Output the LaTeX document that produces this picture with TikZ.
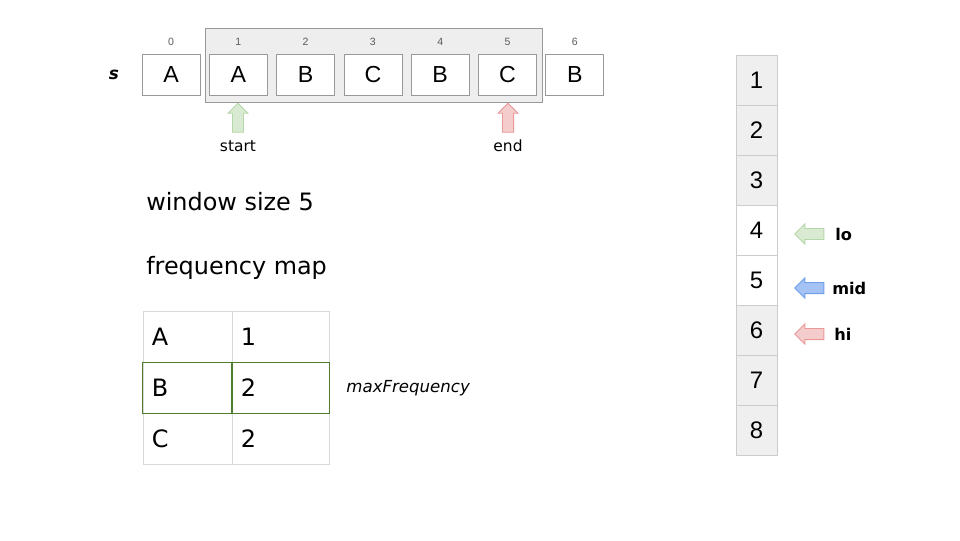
\documentclass[tikz,border=0pt]{standalone}
\usepackage{fontspec}
\setmainfont{DejaVu Sans}
\newfontfamily\cellfont{Liberation Sans}
\usepackage{tikz}
\usetikzlibrary{positioning,shapes.arrows}
\definecolor{CellGray}{HTML}{999999}
\definecolor{IdxGray}{HTML}{595959}
\definecolor{WinFill}{HTML}{EEEEEE}
\definecolor{WinBorder}{HTML}{999999}
\definecolor{BinFill}{HTML}{EFEFEF}
\definecolor{BinBorder}{HTML}{CCCCCC}
\definecolor{TabBorder}{HTML}{D9D9D9}
\definecolor{MaxGreen}{HTML}{4E7D2F}
\definecolor{PtrGreenFill}{HTML}{D9EAD3}
\definecolor{PtrGreenLine}{HTML}{B6D7A8}
\definecolor{PtrRedFill}{HTML}{F4CCCC}
\definecolor{PtrRedLine}{HTML}{EA9999}
\definecolor{PtrBlueFill}{HTML}{A4C2F4}
\definecolor{PtrBlueLine}{HTML}{6D9EEB}
\tikzset{
  strcell/.style={draw=CellGray,fill=white,line width=0.5pt,minimum width=1.45cm,
    minimum height=1.025cm,inner sep=0pt,font=\cellfont\fontsize{16.5}{20}\selectfont},
  idxlabel/.style={inner sep=0pt,text=IdxGray,font=\cellfont\fontsize{7.5}{9}\selectfont},
  windowbox/.style={draw=WinBorder,fill=WinFill,line width=0.6pt,
    minimum width=8.425cm,minimum height=1.85cm,inner sep=0pt},
  bincell/.style={draw=BinBorder,line width=0.5pt,minimum width=1.025cm,
    minimum height=1.25cm,inner sep=0pt,font=\cellfont\fontsize{17}{20}\selectfont},
  tcell/.style={draw=TabBorder,line width=0.5pt,minimum height=1.275cm,inner xsep=0.22cm,
    inner ysep=0pt,align=left,font=\fontsize{17}{20}\selectfont},
  keycell/.style={tcell,minimum width=2.225cm,text width=1.785cm},
  valcell/.style={tcell,minimum width=2.425cm,text width=1.985cm},
  maxrow/.style={draw=MaxGreen,line width=0.8pt},
  pointer/.style={single arrow,single arrow head extend=0.1cm,inner sep=0.11cm,
    minimum width=0.5cm,minimum height=0.725cm,line width=0.7pt},
  ptrup/.style={pointer,shape border rotate=90},
  ptrleft/.style={pointer,shape border rotate=180},
  smalltext/.style={inner sep=0pt,font=\fontsize{11}{13}\selectfont},
  bigtext/.style={inner sep=0pt,font=\fontsize{17}{20}\selectfont},
  ptrlabel/.style={inner sep=0pt,font=\bfseries\fontsize{11.5}{14}\selectfont}
}

\begin{document}
\begin{tikzpicture}[x=0.025cm,y=-0.025cm]
  \useasboundingbox (0,0) rectangle (960,540);

  % string s with the sliding window
  \node[windowbox] (win) at (373.5,65) {};
  \node[inner sep=0pt,font=\bfseries\itshape\fontsize{12}{14}\selectfont] (sname) at (114,75) {s};
  \foreach \i/\ch in {0/A,1/A,2/B,3/C,4/B,5/C,6/B}{
    \node[strcell] (s\i) at ({171+67.3*\i},75) {\ch};
    \node[idxlabel] (i\i) at ({171+67.3*\i},42) {\i};
  }

  \node[ptrup,fill=PtrGreenFill,draw=PtrGreenLine] (startptr) at (238,120.5) {};
  \node[smalltext] (startlbl) at (238,146) {start};
  \node[ptrup,fill=PtrRedFill,draw=PtrRedLine] (endptr) at (508,120.5) {};
  \node[smalltext] (endlbl) at (508,146) {end};

  \node[bigtext,anchor=base west] (winsize) at (146,210) {window size 5};
  \node[bigtext,anchor=base west] (freqlbl) at (146,274) {frequency map};

  % frequency map
  \foreach \r/\k/\v in {1/A/1,2/B/2,3/C/2}{
    \node[keycell] (k\r) at (187.5,{337+51*(\r-1)}) {\k};
    \node[valcell] (v\r) at (280.5,{337+51*(\r-1)}) {\v};
  }
  \draw[maxrow] (k2.north west) rectangle (k2.south east);
  \draw[maxrow] (v2.north west) rectangle (v2.south east);
  \node[inner sep=0pt,font=\itshape\fontsize{11.8}{14}\selectfont,anchor=west,right=0.42cm of v2] (maxlbl) {maxFrequency};

  % search range
  \foreach \k/\f in {1/BinFill,2/BinFill,3/BinFill,4/white,5/white,6/BinFill,7/BinFill,8/BinFill}{
    \node[bincell,fill=\f] (b\k) at (756.5,{80+50*(\k-1)}) {\k};
  }
  \node[ptrleft,fill=PtrGreenFill,draw=PtrGreenLine] (loptr) at (812,234) {};
  \node[ptrlabel,anchor=west] (lolbl) at (835,234) {lo};
  \node[ptrleft,fill=PtrBlueFill,draw=PtrBlueLine] (midptr) at (812,288) {};
  \node[ptrlabel,anchor=west] (midlbl) at (832,288) {mid};
  \node[ptrleft,fill=PtrRedFill,draw=PtrRedLine] (hiptr) at (812,334) {};
  \node[ptrlabel,anchor=west] (hilbl) at (834,334) {hi};
\end{tikzpicture}
\end{document}
